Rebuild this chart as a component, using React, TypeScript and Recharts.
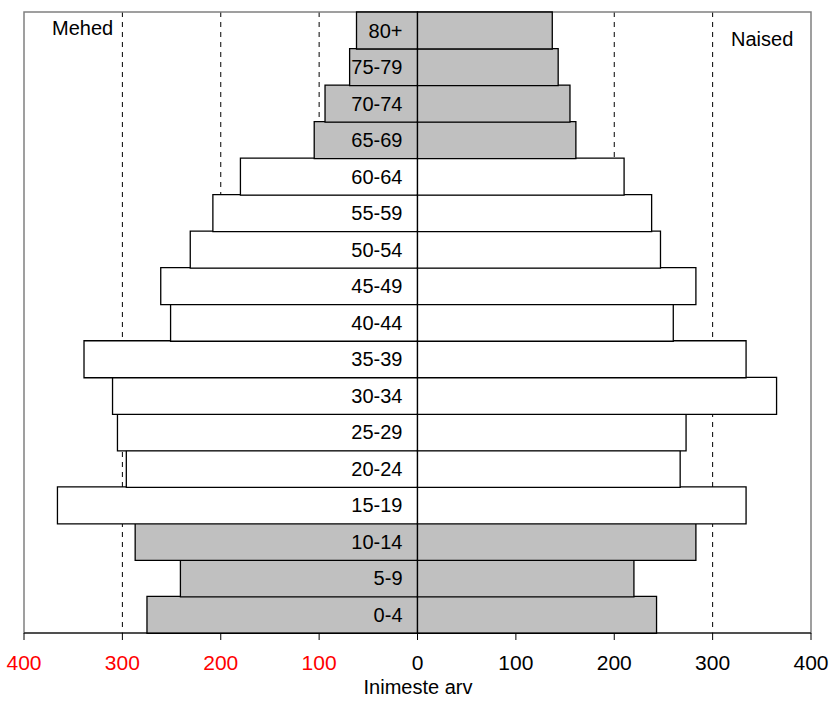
import React from 'react';
import {
    BarChart,
    Bar,
    XAxis,
    YAxis,
    CartesianGrid,
    ReferenceArea,
    LabelList,
    Cell
} from 'recharts';

// age groups, bottom to top
const ageGroups = ['0-4', '5-9', '10-14', '15-19', '20-24', '25-29', '30-34', '35-39', '40-44', '45-49', '50-54', '55-59', '60-64', '65-69', '70-74', '75-79', '80+'];
const men = [275, 241, 287, 366, 296, 305, 310, 339, 251, 261, 231, 208, 180, 105, 94, 69, 62];
const women = [243, 220, 283, 334, 267, 273, 365, 334, 260, 283, 247, 238, 210, 161, 155, 143, 137];
// groups drawn with grey fill (children and elderly)
const shaded = ['0-4', '5-9', '10-14', '65-69', '70-74', '75-79', '80+'];
const xTicks = [-400, -300, -200, -100, 0, 100, 200, 300, 400];
const gridLines = [-300, -200, -100, 100, 200, 300];

const data = ageGroups.map((g, i) => ({
    group: g,
    men: -men[i],
    women: women[i]
}));

const FONT = '"Liberation Sans", Arial, sans-serif';

const XTick = ({ x, y, payload }: any) => (
    <text
        x={x}
        y={y + 28}
        textAnchor="middle"
        fontSize={21}
        fontFamily={FONT}
        fill={payload.value < 0 ? '#ff0000' : '#000000'}
    >
        {Math.abs(payload.value)}
    </text>
);

const GroupLabel = ({ x, y, height, index }: any) => (
    <text
        x={x - 15}
        y={y + height / 2}
        textAnchor="end"
        dominantBaseline="central"
        fontSize={20}
        fontFamily={FONT}
        fill="#000"
    >
        {ageGroups[index]}
    </text>
);

export default function App() {
    return (
        <div style={{ position: 'absolute', left: 0, top: 0, width: 833, height: 702, background: '#fff', fontFamily: FONT }}>
            <BarChart
                width={833}
                height={702}
                data={data}
                layout="vertical"
                stackOffset="sign"
                barCategoryGap={0}
                margin={{ top: 12, right: 22, bottom: 39, left: 24 }}
            >
                <CartesianGrid
                    horizontal={false}
                    verticalValues={gridLines}
                    stroke="#000"
                    strokeDasharray="5 5"
                />
                <XAxis
                    type="number"
                    domain={[-400, 400]}
                    ticks={xTicks}
                    interval={0}
                    height={30}
                    tick={<XTick />}
                    tickSize={7}
                    axisLine={{ stroke: '#000' }}
                    tickLine={{ stroke: '#000' }}
                />
                <YAxis type="category" dataKey="group" reversed hide />
                <ReferenceArea x1={-400} x2={400} fill="none" stroke="#808080" strokeWidth={1.5} />
                <Bar dataKey="men" stackId="p" stroke="#000" strokeWidth={1.3} isAnimationActive={false}>
                    {data.map((d, i) => (
                        <Cell key={`m-${i}`} fill={shaded.includes(d.group) ? '#c0c0c0' : '#ffffff'} />
                    ))}
                </Bar>
                <Bar dataKey="women" stackId="p" stroke="#000" strokeWidth={1.3} isAnimationActive={false}>
                    {data.map((d, i) => (
                        <Cell key={`w-${i}`} fill={shaded.includes(d.group) ? '#c0c0c0' : '#ffffff'} />
                    ))}
                    <LabelList dataKey="women" content={<GroupLabel />} />
                </Bar>
            </BarChart>
            <div style={{ position: 'absolute', left: 52, top: 17, fontSize: 20 }}>Mehed</div>
            <div style={{ position: 'absolute', left: 731, top: 28, fontSize: 20 }}>Naised</div>
            <div style={{ position: 'absolute', left: 0, width: 836, top: 676, textAlign: 'center', fontSize: 20 }}>Inimeste arv</div>
        </div>
    );
}
